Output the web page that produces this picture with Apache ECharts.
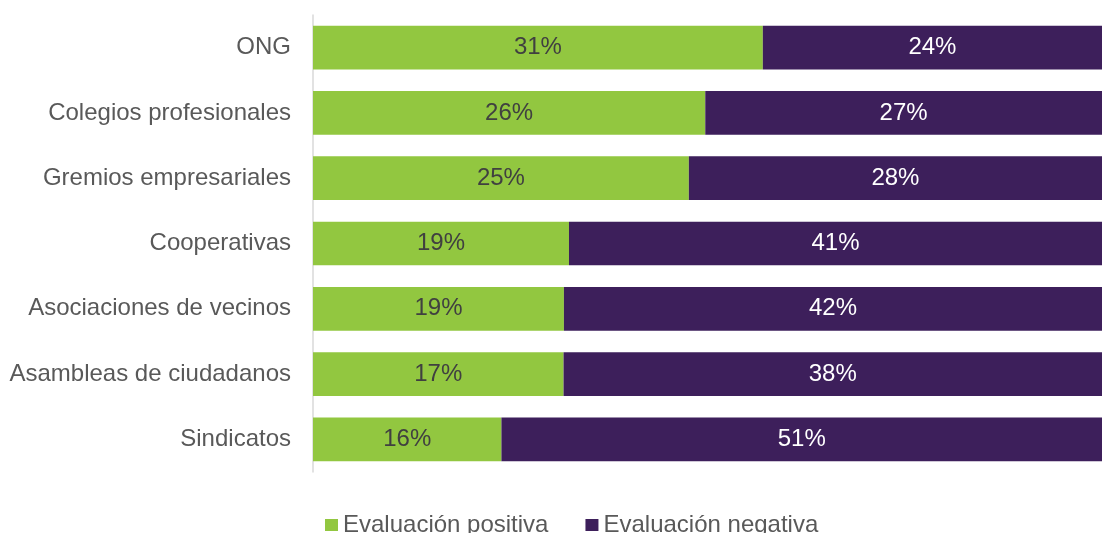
<!DOCTYPE html>
<html>
<head>
<meta charset="utf-8">
<script src="https://cdn.jsdelivr.net/npm/echarts@6/dist/echarts.min.js"></script>
<style>html,body{margin:0;padding:0;background:#fff;}#c{width:1102px;height:533px;}</style>
</head>
<body>
<div id="c"></div>
<script>
const categories = ["ONG","Colegios profesionales","Gremios empresariales","Cooperativas","Asociaciones de vecinos","Asambleas de ciudadanos","Sindicatos"];
// estimated unrounded values (labels show them rounded)
const positiva = [31.3,26.4,25.2,19.45,19.4,17.45,16];
const negativa = [23.6,26.7,27.7,40.5,41.6,37.5,51];
const seriesNames = ["Evaluación positiva","Evaluación negativa"];

const totals = positiva.map((p,i)=>p+negativa[i]);
const posShare = positiva.map((p,i)=>({value:p/totals[i]*100, raw:p}));
const negShare = negativa.map((n,i)=>({value:n/totals[i]*100, raw:n}));

const chart = echarts.init(document.getElementById('c'));
const font = 'Liberation Sans, Arial, sans-serif';
chart.setOption({
  animation:false,
  grid:{left:313,right:0,top:15,bottom:61,containLabel:false},
  legend:{
    data:seriesNames, left:325, top:513, padding:0, itemWidth:13, itemHeight:12, itemGap:37,
    icon:'rect',
    textStyle:{fontFamily:font,fontSize:24,color:'#595959'}
  },
  xAxis:{type:'value',min:0,max:100,show:false},
  yAxis:{
    type:'category',data:categories,inverse:true,
    axisLine:{lineStyle:{color:'#d9d9d9',width:1.5}},
    axisTick:{show:false},
    axisLabel:{fontFamily:font,fontSize:24,color:'#595959',margin:22,padding:[2,0,0,0]}
  },
  series:[
    {name:seriesNames[0],type:'bar',stack:'t',data:posShare,barCategoryGap:'33%',
     itemStyle:{color:'#92c740'},
     label:{show:true,position:'inside',fontFamily:font,fontSize:24,color:'#404040',
       formatter:p=>Math.round(p.data.raw)+'%'}},
    {name:seriesNames[1],type:'bar',stack:'t',data:negShare,barCategoryGap:'33%',
     itemStyle:{color:'#3d1f5b'},
     label:{show:true,position:'inside',fontFamily:font,fontSize:24,color:'#ffffff',
       formatter:p=>Math.round(p.data.raw)+'%'}}
  ]
});
</script>
</body>
</html>
